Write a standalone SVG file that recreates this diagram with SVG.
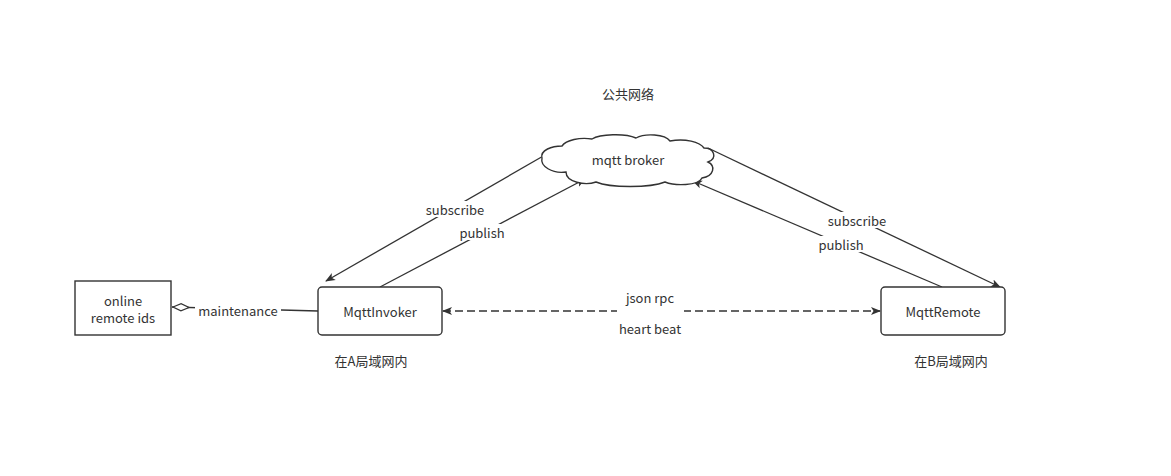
<svg xmlns="http://www.w3.org/2000/svg" width="1171" height="476" viewBox="0 0 1171 476">
<style>
.t{font-family:"Noto Sans CJK SC","Liberation Sans",sans-serif;font-size:13px;fill:#333;text-anchor:middle;dominant-baseline:central}
.n{fill:#fff;stroke:#333;stroke-width:1.4}
.e{fill:none;stroke:#333;stroke-width:1.3}
.d{stroke-dasharray:8 4;stroke-width:1.6}
.lb{fill:#fff}
</style>
<defs>
<marker id="ar" viewBox="0 0 10 10" refX="9" refY="5" markerWidth="10" markerHeight="10" markerUnits="userSpaceOnUse" orient="auto-start-reverse">
<path d="M0,1 L10,5 L0,9 L2.5,5 Z" fill="#333"/>
</marker>
<marker id="dm" viewBox="0 0 18 10" refX="0" refY="5" markerWidth="18" markerHeight="10" markerUnits="userSpaceOnUse" orient="auto">
<path d="M1,5 L9,1.5 L17,5 L9,8.5 Z" fill="#fff" stroke="#333" stroke-width="1.2"/>
</marker>
</defs>
<rect width="1171" height="476" fill="#fff"/>
<g id="connectors">
<path class="e" d="M545,155 L326,281" marker-end="url(#ar)"/>
<path class="e" d="M380,287 L585,179" marker-end="url(#ar)"/>
<path class="e" d="M708,148 L1000,287" marker-end="url(#ar)"/>
<path class="e" d="M942,287 L693,181" marker-end="url(#ar)"/>
<path class="e d" d="M443,311 L880,311" marker-start="url(#ar)" marker-end="url(#ar)"/>
<path class="e" d="M172,307 L318,311" marker-start="url(#dm)"/>
<rect class="lb" x="421" y="201" width="68" height="16"/>
<text class="t" x="455" y="209">subscribe</text>
<rect class="lb" x="455" y="224" width="54" height="16"/>
<text class="t" x="482" y="232">publish</text>
<rect class="lb" x="823" y="212" width="68" height="16"/>
<text class="t" x="857" y="220">subscribe</text>
<rect class="lb" x="814" y="236" width="54" height="16"/>
<text class="t" x="841" y="244">publish</text>
<rect class="lb" x="617" y="289" width="67" height="25"/>
<text class="t" x="650" y="297">json rpc</text>
<text class="t" x="650" y="328">heart beat</text>
<rect class="lb" x="195" y="302" width="86" height="16"/>
<text class="t" x="238" y="310">maintenance</text>
</g>
<g id="cloud">
<path class="n" d="M542,158 C540,150 552,146 562,146 C566,140 580,137 592,139 C600,134 625,133 636,138 C645,133 665,134 670,141 C685,138 700,142 704,148 C714,148 718,158 708,162 C716,166 714,176 702,178 C698,186 675,186 665,182 C650,188 610,188 596,182 C585,186 566,182 566,172 C552,174 540,166 542,158 Z"/>
<text class="t" x="628" y="159">mqtt broker</text>
</g>
<g id="ids">
<rect class="n" x="75" y="281" width="96" height="54"/>
<text class="t" x="123" y="300">online</text>
<text class="t" x="123" y="317">remote ids</text>
</g>
<g id="invoker">
<rect class="n" x="318" y="287" width="124" height="48" rx="4"/>
<text class="t" x="380" y="311">MqttInvoker</text>
</g>
<g id="remote">
<rect class="n" x="881" y="287" width="124" height="48" rx="4"/>
<text class="t" x="943" y="311">MqttRemote</text>
</g>
<g id="labels">
<text class="t" x="628" y="93">公共网络</text>
<text class="t" x="371" y="360">在A局域网内</text>
<text class="t" x="951" y="360">在B局域网内</text>
</g>
</svg>
